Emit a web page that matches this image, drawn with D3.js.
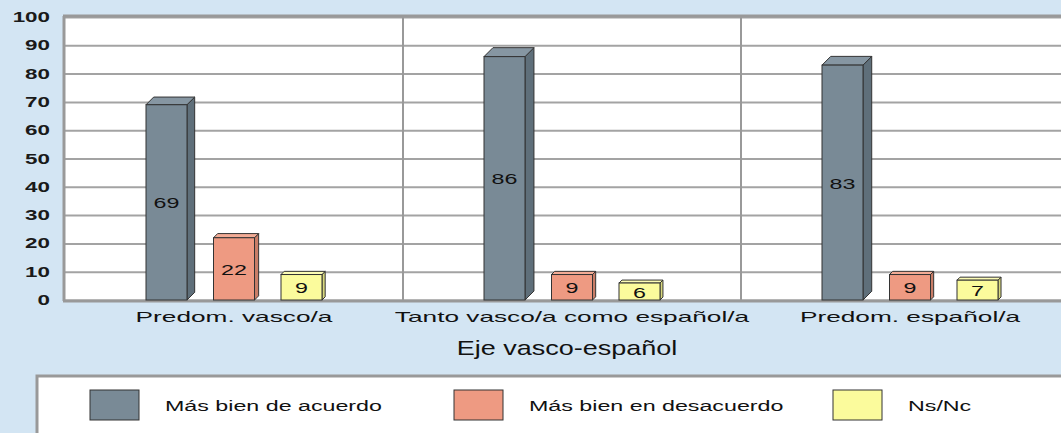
<!DOCTYPE html>
<html><head><meta charset="utf-8">
<script src="https://cdn.jsdelivr.net/npm/d3@7"></script>
<style>body{margin:0;background:#d3e5f3;}svg{display:block;font-family:"Liberation Sans",Arial,sans-serif;}</style>
</head><body><svg id="c" width="1061" height="433"></svg>
<script>
const categories = ["Predom. vasco/a", "Tanto vasco/a como español/a", "Predom. español/a"];
const seriesNames = ["Más bien de acuerdo", "Más bien en desacuerdo", "Ns/Nc"];
const acuerdo = [69, 86, 83];
const desacuerdo = [22, 9, 9];
const nsnc = [9, 6, 7];
const yTicks = [0, 10, 20, 30, 40, 50, 60, 70, 80, 90, 100];
const axisTitle = "Eje vasco-español";

const seriesValues = [acuerdo, desacuerdo, nsnc];
const fills = ["#798a96", "#ee9a82", "#fbfb9c"];
const sides = ["#5f6f7a", "#c97d67", "#d8d87e"];
const tops = ["#8696a2", "#f2ab95", "#fcfcb4"];

const svg = d3.select("#c");
svg.append("rect").attr("width",1061).attr("height",433).attr("fill","#d3e5f3");

const L = 65, R = 1079, T = 17, B = 300;
const x0 = d3.scaleBand().domain(categories).range([L, R]).paddingInner(0).paddingOuter(0);
const x1 = d3.scaleBand().domain(seriesNames).range([0, x0.bandwidth()]).paddingInner(0.3926).paddingOuter(1.2);
const y = d3.scaleLinear().domain([0, 100]).range([B, T]);

svg.append("rect").attr("x",L).attr("y",T).attr("width",R-L).attr("height",B-T).attr("fill","#fff");

const yAxisG = svg.append("g").attr("transform",`translate(${L},0)`)
  .call(d3.axisLeft(y).tickValues(yTicks).tickSize(-(R-L)).tickFormat(""));
yAxisG.select(".domain").remove();
yAxisG.selectAll(".tick line").attr("stroke","#a3a3a3").attr("stroke-width",2);

svg.append("g").selectAll("line").data(categories.slice(1)).join("line")
  .attr("x1",d=>x0(d)).attr("x2",d=>x0(d)).attr("y1",T).attr("y2",B)
  .attr("stroke","#999").attr("stroke-width",2);

svg.append("line").attr("x1",L-1).attr("x2",L-1).attr("y1",T-1).attr("y2",B+1).attr("stroke","#999").attr("stroke-width",3);
svg.append("line").attr("x1",L-2).attr("x2",R).attr("y1",T-1).attr("y2",T-1).attr("stroke","#999").attr("stroke-width",3);
svg.append("line").attr("x1",L-2).attr("x2",R).attr("y1",B+1).attr("y2",B+1).attr("stroke","#999").attr("stroke-width",3);

svg.append("g").selectAll("text").data(yTicks).join("text")
  .attr("transform",d=>`translate(50,${y(d)+5}) scale(1.6,1)`)
  .attr("text-anchor","end").attr("font-weight","bold").attr("font-size",14).attr("fill","#1a1a1a")
  .text(d=>d);

const bars = [];
categories.forEach((c,ci)=>seriesNames.forEach((s,si)=>bars.push({c,s,si,v:seriesValues[si][ci]})));
const bw = x1.bandwidth();
const g = svg.append("g");
bars.forEach(b=>{
  const xl = x0(b.c)+x1(b.s), yt = y(b.v), d = 2.5 + b.v*0.075;
  const gg = g.append("g");
  gg.append("path").attr("d",`M${xl+bw},${yt} L${xl+bw+d},${yt-d} L${xl+bw+d},${B-d} L${xl+bw},${B} Z`)
    .attr("fill",sides[b.si]).attr("stroke","#333").attr("stroke-width",1).attr("stroke-linejoin","round");
  gg.append("path").attr("d",`M${xl},${yt} L${xl+d},${yt-d} L${xl+bw+d},${yt-d} L${xl+bw},${yt} Z`)
    .attr("fill",tops[b.si]).attr("stroke","#333").attr("stroke-width",1).attr("stroke-linejoin","round");
  gg.append("rect").attr("x",xl).attr("y",yt).attr("width",bw).attr("height",B-yt)
    .attr("fill",fills[b.si]).attr("stroke","#333").attr("stroke-width",1);
  gg.append("text").attr("transform",`translate(${xl+bw/2},${(yt+B)/2+6}) scale(1.55,1)`)
    .attr("text-anchor","middle").attr("font-size",15).attr("fill","#111").text(b.v);
});

svg.append("g").selectAll("text").data(categories).join("text")
  .attr("transform",d=>`translate(${x0(d)+x0.bandwidth()/2},322) scale(1.75,1)`)
  .attr("text-anchor","middle").attr("font-size",15).attr("fill","#111").text(d=>d);

svg.append("text").attr("transform",`translate(567,355) scale(1.35,1)`)
  .attr("text-anchor","middle").attr("font-size",20).attr("fill","#111").text(axisTitle);

svg.append("rect").attr("x",37).attr("y",376).attr("width",1040).attr("height",70)
  .attr("fill","#fff").attr("stroke","#999").attr("stroke-width",3);
const legX = [90, 454, 833];
const lg = svg.append("g").selectAll("g").data(seriesNames).join("g")
  .attr("transform",(d,i)=>`translate(${legX[i]},390)`);
lg.append("rect").attr("width",49).attr("height",30).attr("fill",(d,i)=>fills[i]).attr("stroke","#333").attr("stroke-width",1);
lg.append("text").attr("transform","translate(75,21) scale(1.55,1)").attr("font-size",15).attr("fill","#111").text(d=>d);
</script></body></html>
